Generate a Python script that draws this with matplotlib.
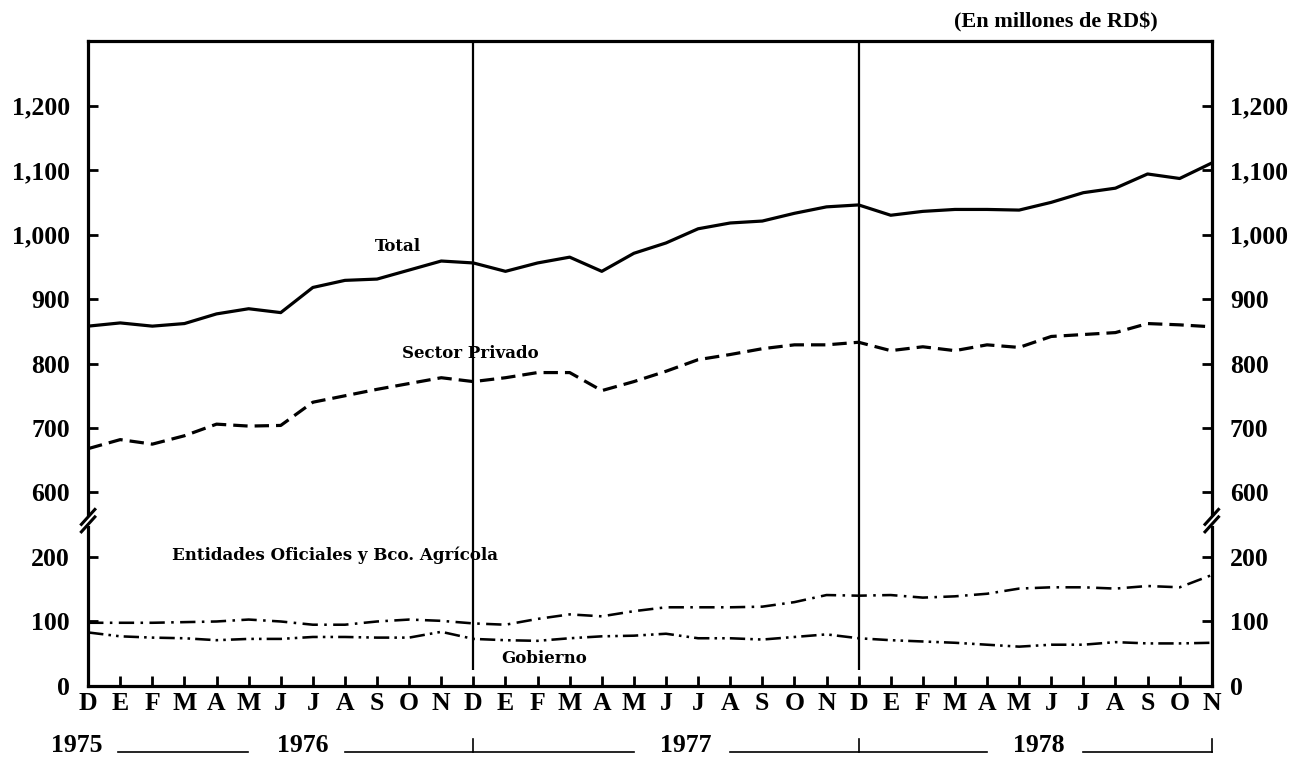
import numpy as np
import matplotlib
matplotlib.use('Agg')
import matplotlib.pyplot as plt

# meses: D 1975 ... N 1978
meses = ['D', 'E', 'F', 'M', 'A', 'M', 'J', 'J', 'A', 'S', 'O', 'N'] * 3
total = [858, 863, 858, 862, 877, 885, 879, 918, 929, 931, 945, 959,
         956, 943, 956, 965, 943, 971, 987, 1009, 1018, 1021, 1033, 1043,
         1046, 1030, 1036, 1039, 1039, 1038, 1050, 1065, 1072, 1094, 1087, 1111]
privado = [668, 682, 675, 688, 706, 703, 704, 740, 750, 760, 769, 778,
           772, 778, 786, 786, 758, 772, 788, 806, 814, 823, 829, 829,
           833, 820, 826, 820, 829, 825, 842, 845, 848, 862, 860, 857]
entidades = [98, 98, 98, 99, 100, 103, 100, 95, 95, 100, 103, 101,
             97, 95, 104, 111, 108, 116, 122, 122, 122, 123, 130, 141,
             140, 141, 137, 139, 143, 151, 153, 153, 151, 155, 153, 172]
gobierno = [83, 77, 75, 74, 71, 73, 73, 76, 76, 75, 75, 84,
            73, 71, 70, 74, 77, 78, 81, 74, 74, 72, 76, 80,
            74, 71, 69, 67, 64, 61, 64, 64, 68, 66, 66, 67]
ticks_alto = [600, 700, 800, 900, 1000, 1100, 1200]
ticks_bajo = [0, 100, 200]
anios = ['1975', '1976', '1977', '1978']

x = np.arange(len(total))
lw = 2.3
tfont = dict(family='Liberation Serif', weight='bold', size=18.5)
lfont = dict(family='DejaVu Serif', weight='bold', size=12)

fig = plt.figure(figsize=(12.96, 7.58), dpi=100)
left, width = 0.068, 0.867
ax_hi = fig.add_axes([left, 0.3137, width, 0.632])
ax_lo = fig.add_axes([left, 0.095, width, 0.2187])

ax_hi.plot(x, total, c='k', lw=lw)
ax_hi.plot(x, privado, c='k', lw=lw, ls=(0, (4.5, 2.2)))
ax_lo.plot(x, entidades, c='k', lw=lw * 0.8, ls=(0, (6, 2.5, 1, 2.5)))
ax_lo.plot(x, gobierno, c='k', lw=lw * 0.8, ls=(0, (6, 2, 1, 2, 1, 2)))

for xv in [12, 24]:
    ax_hi.axvline(xv, c='k', lw=1.6)
    ax_lo.vlines(xv, 25, 257, colors='k', lw=1.6)

ax_hi.set_ylim(557, 1300)
ax_lo.set_ylim(0, 257)
for ax in (ax_hi, ax_lo):
    ax.set_xlim(0, 35)
    for s in ax.spines.values():
        s.set_linewidth(2.3)

ax_hi.spines['bottom'].set_visible(False)
ax_lo.spines['top'].set_visible(False)
ax_lo.spines['left'].set_bounds(0, 247)
ax_lo.spines['right'].set_bounds(0, 247)
ax_hi.spines['left'].set_bounds(566, 1300)
ax_hi.spines['right'].set_bounds(566, 1300)

ax_hi.set_xticks([])
ax_hi.set_yticks(ticks_alto)
ax_hi.set_yticklabels([f'{v:,}' for v in ticks_alto], **tfont)
ax_lo.set_yticks(ticks_bajo)
ax_lo.set_yticklabels([str(v) for v in ticks_bajo], **tfont)
ax_lo.set_xticks(x)
ax_lo.set_xticklabels(meses, **tfont)
for ax in (ax_hi, ax_lo):
    ax.tick_params(axis='y', direction='in', length=7, width=2,
                   left=True, right=True, labelleft=True, labelright=True, pad=13)
ax_lo.tick_params(axis='x', direction='in', length=7, width=2, pad=4)

# marcas de corte del eje
for xa in (0, 1):
    for dy in (-0.025, 0.02):
        ax_lo.plot([xa - 0.006, xa + 0.006], [1.0 + dy - 0.045, 1.0 + dy + 0.045],
                   transform=ax_lo.transAxes, c='k', lw=2.2, clip_on=False)

# rotulos de series
ax_hi.text(9.66, 982, 'Total', ha='center', va='center', **lfont)
ax_hi.text(11.9, 815, 'Sector Privado', ha='center', va='center', **lfont)
ax_lo.text(7.7, 202, 'Entidades Oficiales y Bco. Agrícola', ha='center', va='center', **lfont)
ax_lo.text(14.2, 42, 'Gobierno', ha='center', va='center', **lfont)

fig.text(0.815, 0.97, '(En millones de RD$)', ha='center', va='center',
         family='Liberation Serif', weight='bold', size=16)

# fila de años
tr = ax_lo.get_xaxis_transform()
ax_lo.text(-0.35, -0.36, anios[0], transform=tr, ha='center', va='center', clip_on=False, **tfont)
ax_lo.text(6.67, -0.36, anios[1], transform=tr, ha='center', va='center', clip_on=False, **tfont)
ax_lo.text(18.6, -0.36, anios[2], transform=tr, ha='center', va='center', clip_on=False, **tfont)
ax_lo.text(29.6, -0.36, anios[3], transform=tr, ha='center', va='center', clip_on=False, **tfont)
yl = -0.40
for a, b in [(0.93, 4.98), (8.0, 17.0), (20.0, 28.0), (31.0, 35.0)]:
    ax_lo.plot([a, b], [yl, yl], transform=tr, c='k', lw=1.2, clip_on=False)
for xv in [12, 24, 35]:
    ax_lo.plot([xv, xv], [yl, yl + 0.08], transform=tr, c='k', lw=1.2, clip_on=False)

fig.savefig('out.png', dpi=100)
